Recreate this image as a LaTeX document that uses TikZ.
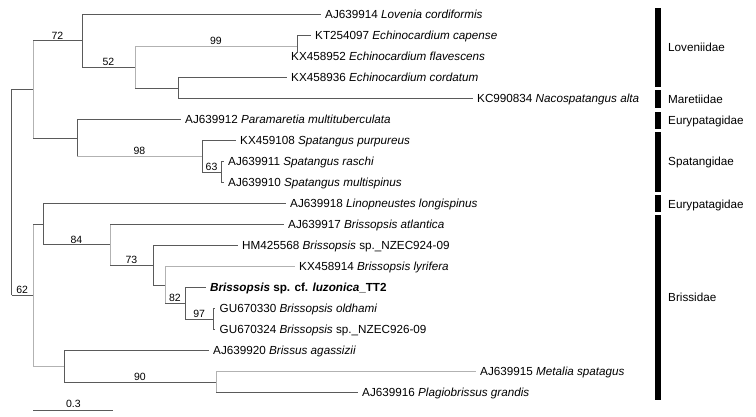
\documentclass[tikz,border=0pt]{standalone}
\usepackage{fontspec}
\setmainfont{Liberation Sans}
\definecolor{brdark}{RGB}{90,90,90}
\definecolor{brlight}{RGB}{178,178,178}
\begin{document}
\begin{tikzpicture}[x=1pt,y=-1pt,
	br/.style={line width=0.8pt,color=brdark},
	brl/.style={line width=0.8pt,color=brlight},
	taxon/.style={anchor=west,inner xsep=4.5pt,inner ysep=0pt,text height=8.4pt,text depth=0pt,font=\fontsize{11.7}{14}\selectfont},
	boot/.style={midway,anchor=south,inner sep=1pt,text=black,text height=7.5pt,text depth=0pt,font=\fontsize{10.5}{12}\selectfont},
	famlabel/.style={anchor=west,inner sep=0pt,text height=8.4pt,text depth=0pt,font=\fontsize{11.7}{14}\selectfont},
	fambar/.style={fill=black}]
					\useasboundingbox (0,0) rectangle (756,416);
					\node[taxon] (t1) at (320.5,14.5) {AJ639914 \textit{Lovenia cordiformis}};
					\node[taxon] (t2) at (310.5,35.5) {KT254097 \textit{Echinocardium capense}};
					\node[taxon] (t3) at (286.5,56.5) {KX458952 \textit{Echinocardium flavescens}};
					\node[taxon] (t4) at (286.5,77.5) {KX458936 \textit{Echinocardium cordatum}};
					\node[taxon] (t5) at (472.5,98.5) {KC990834 \textit{Nacospatangus alta}};
					\node[taxon] (t6) at (180.5,119.5) {AJ639912 \textit{Paramaretia multituberculata}};
					\node[taxon] (t7) at (235.5,140.5) {KX459108 \textit{Spatangus purpureus}};
					\node[taxon] (t8) at (223.5,161.5) {AJ639911 \textit{Spatangus raschi}};
					\node[taxon] (t9) at (223.5,182.5) {AJ639910 \textit{Spatangus multispinus}};
					\node[taxon] (t10) at (285.5,203.5) {AJ639918 \textit{Linopneustes longispinus}};
					\node[taxon] (t11) at (283.5,224.5) {AJ639917 \textit{Brissopsis atlantica}};
					\node[taxon] (t12) at (237.5,245.5) {HM425568 \textit{Brissopsis} sp.\_NZEC924-09};
					\node[taxon] (t13) at (294.5,266.5) {KX458914 \textit{Brissopsis lyrifera}};
					\node[taxon] (t14) at (205.5,287.5) {\textbf{\textit{Brissopsis} sp. cf. \textit{luzonica}\_TT2}};
					\node[taxon] (t15) at (215,308.5) {GU670330 \textit{Brissopsis oldhami}};
					\node[taxon] (t16) at (215,329.5) {GU670324 \textit{Brissopsis} sp.\_NZEC926-09};
					\node[taxon] (t17) at (208.5,350.5) {AJ639920 \textit{Brissus agassizii}};
					\node[taxon] (t18) at (475.5,371.5) {AJ639915 \textit{Metalia spatagus}};
					\node[taxon] (t19) at (357.5,392.5) {AJ639916 \textit{Plagiobrissus grandis}};
					\coordinate (root) at (11.5,192.3);
					\coordinate (nA) at (33,89.3);
					\coordinate (nA1) at (82,40.75);
					\coordinate (n52) at (135,67);
					\coordinate (n99) at (297,46);
					\coordinate (n178) at (178,88);
					\coordinate (nA2) at (77,137.9);
					\coordinate (n98) at (202,156.25);
					\coordinate (n63) at (221,172);
					\coordinate (nB) at (33,295.2);
					\coordinate (nB1) at (43,224.2);
					\coordinate (n84) at (110,244.85);
					\coordinate (n73) at (153,265.2);
					\coordinate (n165) at (165,284.9);
					\coordinate (n82) at (185,303.25);
					\coordinate (n97) at (213.3,319);
					\coordinate (nB2) at (64,366.25);
					\coordinate (n90) at (216,382);
					\draw[br] (root |- nA) -- (root |- nB);
					\draw[br] (root |- nA) -- (nA);
					\draw[br] (root |- nB) -- node[boot] {62} (nB);
					\draw[brl] (nA |- nA1) -- (nA |- nA2);
					\draw[br] (nA |- nA1) -- node[boot] {72} (nA1);
					\draw[br] (nA |- nA2) -- (nA2);
					\draw[br] (nA1 |- t1.west) -- (nA1 |- n52);
					\draw[br] (nA1 |- t1.west) -- (t1.west);
					\draw[br] (nA1 |- n52) -- node[boot] {52} (n52);
					\draw[brl] (n52 |- n99) -- (n52 |- n178);
					\draw[brl] (n52 |- n99) -- node[boot] {99} (n99);
					\draw[br] (n52 |- n178) -- (n178);
					\draw[br] (n99 |- t2.west) -- (n99 |- t3.north);
					\draw[br] (n99 |- t2.west) -- (t2.west);
					\draw[br] (n178 |- t4.west) -- (n178 |- t5.west);
					\draw[br] (n178 |- t4.west) -- (t4.west);
					\draw[br] (n178 |- t5.west) -- (t5.west);
					\draw[br] (nA2 |- t6.west) -- (nA2 |- n98);
					\draw[br] (nA2 |- t6.west) -- (t6.west);
					\draw[brl] (nA2 |- n98) -- node[boot] {98} (n98);
					\draw[br] (n98 |- t7.west) -- (n98 |- n63);
					\draw[br] (n98 |- t7.west) -- (t7.west);
					\draw[br] (n98 |- n63) -- node[boot] {63} (n63);
					\draw[br] (n63 |- t8.west) -- (n63 |- t9.west);
					\draw[br] (n63 |- t8.west) -- (t8.west);
					\draw[br] (n63 |- t9.west) -- (t9.west);
					\draw[brl] (nB |- nB1) -- (nB |- nB2);
					\draw[br] (nB |- nB1) -- (nB1);
					\draw[brl] (nB |- nB2) -- (nB2);
					\draw[br] (nB1 |- t10.west) -- (nB1 |- n84);
					\draw[br] (nB1 |- t10.west) -- (t10.west);
					\draw[br] (nB1 |- n84) -- node[boot] {84} (n84);
					\draw[brl] (n84 |- t11.west) -- (n84 |- n73);
					\draw[br] (n84 |- t11.west) -- (t11.west);
					\draw[br] (n84 |- n73) -- node[boot] {73} (n73);
					\draw[br] (n73 |- t12.west) -- (n73 |- n165);
					\draw[br] (n73 |- t12.west) -- (t12.west);
					\draw[br] (n73 |- n165) -- (n165);
					\draw[brl] (n165 |- t13.west) -- (n165 |- n82);
					\draw[brl] (n165 |- t13.west) -- (t13.west);
					\draw[br] (n165 |- n82) -- node[boot] {82} (n82);
					\draw[br] (n82 |- t14.west) -- (n82 |- n97);
					\draw[br] (n82 |- t14.west) -- (t14.west);
					\draw[br] (n82 |- n97) -- node[boot] {97} (n97);
					\draw[br] (n97 |- t15.west) -- (n97 |- t16.west);
					\draw[br] (n97 |- t15.west) -- (t15.west);
					\draw[br] (n97 |- t16.west) -- (t16.west);
					\draw[br] (nB2 |- t17.west) -- (nB2 |- n90);
					\draw[br] (nB2 |- t17.west) -- (t17.west);
					\draw[br] (nB2 |- n90) -- node[boot] {90} (n90);
					\draw[brl] (n90 |- t18.west) -- (n90 |- t19.west);
					\draw[brl] (n90 |- t18.west) -- (t18.west);
					\draw[br] (n90 |- t19.west) -- (t19.west);
					\coordinate (sb0) at (33.3,410);
					\coordinate (sb1) at (113.3,410);
					\draw[br] (sb0) -- node[boot,inner sep=2.5pt] {0.3} (sb1);
					\fill[fambar] (655,8.3) rectangle (661,87.3);
					\fill[fambar] (655,90) rectangle (661,108.3);
					\fill[fambar] (655,111.7) rectangle (661,129);
					\fill[fambar] (655,131.7) rectangle (661,192.3);
					\fill[fambar] (655,195) rectangle (661,212.3);
					\fill[fambar] (655,215) rectangle (661,400);
					\node[famlabel] (fLov) at (668,47.5) {Loveniidae};
					\node[famlabel] (fMar) at (668,99) {Maretiidae};
					\node[famlabel] (fEur1) at (668,120) {Eurypatagidae};
					\node[famlabel] (fSpa) at (668,161) {Spatangidae};
					\node[famlabel] (fEur2) at (668,204) {Eurypatagidae};
					\node[famlabel] (fBri) at (668,297.3) {Brissidae};
				\end{tikzpicture}
\end{document}
